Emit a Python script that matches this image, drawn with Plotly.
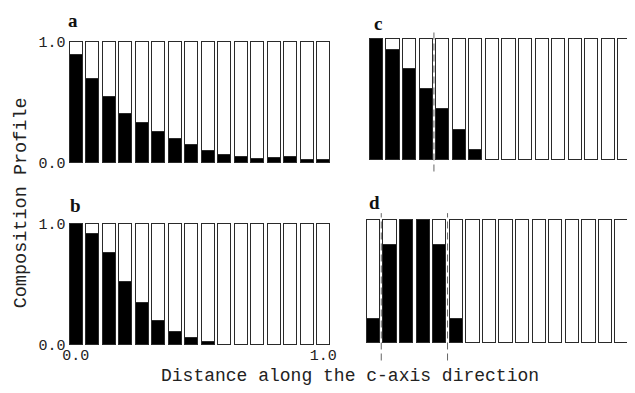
import plotly.graph_objects as go

# ---------------- data ----------------
n_bars = 16
distance = [i / (n_bars - 1) for i in range(n_bars)]          # 0.0 .. 1.0 along c-axis

a_black = [0.90, 0.70, 0.55, 0.41, 0.33, 0.26, 0.20, 0.15, 0.10, 0.065, 0.05, 0.04, 0.045, 0.05, 0.03, 0.03]
b_black = [1.00, 0.92, 0.76, 0.52, 0.35, 0.20, 0.11, 0.055, 0.027, 0, 0, 0, 0, 0, 0, 0]
c_black = [1.00, 0.91, 0.75, 0.585, 0.42, 0.25, 0.087, 0, 0, 0, 0, 0, 0, 0, 0, 0]
d_black = [0.20, 0.80, 1.00, 1.00, 0.80, 0.20, 0, 0, 0, 0, 0, 0, 0, 0, 0, 0]

c_interfaces = [3.5 / (n_bars - 1)]
d_interfaces = [0.5 / (n_bars - 1), 4.5 / (n_bars - 1)]

panel_labels = ["a", "b", "c", "d"]
y_tickvals = [0.0, 1.0]
y_ticktext = ["0.0", "1.0"]
x_tickvals = [0.0, 1.0]
x_ticktext = ["0.0", "1.0"]
x_title = "Distance along the c-axis direction"
y_title = "Composition Profile"

# ---------------- layout helpers ----------------
W, H = 635, 393
OFF = 8          # the page places the figure 8 px in from the window corner
BARGAP = 0.2
step = 1 / (n_bars - 1)


def geom(L, R, y1px, y0px, ylo, yhi):
    L, R, y1px, y0px = L - OFF, R - OFF, y1px - OFF, y0px - OFF
    p = (R - L) / (n_bars - 1 + (1 - BARGAP))
    dl = L - (BARGAP / 2) * p
    dr = R + (BARGAP / 2) * p
    xr = [-0.5 * step, (n_bars - 0.5) * step]
    if dr > W:
        xr[1] = xr[0] + (W - dl) / p * step
        dr = W
    u = y0px - y1px
    top = y1px - (yhi - 1) * u
    bot = y0px + (-ylo) * u
    return [dl / W, dr / W], [1 - bot / H, 1 - top / H], xr, [ylo, yhi]


def paper(px, py):
    return (px - OFF) / W, 1 - (py - OFF) / H


panels = [
    (a_black, geom(65, 330, 39, 164, -0.012, 1.02)),
    (b_black, geom(65, 330, 227, 352, -0.012, 1.02)),
    (c_black, geom(370, 636, 35, 161, -0.10, 1.07)),
    (d_black, geom(367, 633, 223, 350, -0.15, 1.06)),
]

mono = "Liberation Mono, Courier New, monospace"
serif = "Liberation Serif, Times New Roman, serif"
outline = "#2a2a2a"
txt = "#222"

fig = go.Figure()
layout = dict(
    width=W, height=H,
    margin=dict(l=0, r=0, t=0, b=0),
    paper_bgcolor="white", plot_bgcolor="white",
    barmode="stack", bargap=BARGAP,
    showlegend=False,
    font=dict(family=mono, size=15, color=txt),
)

for k, (vals, (xd, yd, xr, yr)) in enumerate(panels):
    idx = "" if k == 0 else str(k + 1)
    xa, ya = "x" + idx, "y" + idx
    white = [1 - v for v in vals]
    fig.add_trace(go.Bar(x=distance, y=vals, xaxis=xa, yaxis=ya,
                         marker=dict(color="black", line=dict(color=outline, width=1))))
    fig.add_trace(go.Bar(x=distance, y=white, xaxis=xa, yaxis=ya,
                         marker=dict(color="white", line=dict(color=outline, width=1))))
    show_y = k in (0, 1)
    show_x = k == 1
    layout["xaxis" + idx] = dict(domain=xd, range=xr, anchor=ya, showgrid=False, zeroline=False,
                                 showline=False, ticks="", ticklabelstandoff=-2,
                                 showticklabels=show_x, tickvals=x_tickvals, ticktext=x_ticktext,
                                 tickfont=dict(family=mono, size=15, color=txt))
    layout["yaxis" + idx] = dict(domain=yd, range=yr, anchor=xa, showgrid=False, zeroline=False,
                                 showline=False, ticks="", ticklabelstandoff=1,
                                 showticklabels=show_y, tickvals=y_tickvals, ticktext=y_ticktext,
                                 tickfont=dict(family=mono, size=15, color=txt))

fig.update_layout(**layout)

# interface (dashed) lines
for k, bounds in ((2, c_interfaces), (3, d_interfaces)):
    idx = str(k + 1)
    yr = panels[k][1][3]
    for b in bounds:
        fig.add_shape(type="line", xref="x" + idx, yref="y" + idx,
                      x0=b, x1=b, y0=yr[0] + 0.005, y1=yr[1] - 0.005,
                      line=dict(color="#666", width=1, dash="7px,4px"))

# panel labels
label_pos = [(69, 17), (71, 208), (379, 20), (375, 205)]
for lab, (px, py) in zip(panel_labels, label_pos):
    x, y = paper(px, py)
    fig.add_annotation(text="<b>" + lab + "</b>", x=x, y=y, xref="paper", yref="paper",
                       showarrow=False, xanchor="center", yanchor="middle",
                       font=dict(family=serif, size=19, color="#111"))

# axis titles
x, y = paper(350, 384)
fig.add_annotation(text=x_title, x=x, y=y, xref="paper", yref="paper",
                   showarrow=False, xanchor="center", yanchor="middle",
                   font=dict(family=mono, size=18, color=txt))
x, y = paper(17, 205)
fig.add_annotation(text=y_title, x=x, y=y, xref="paper", yref="paper",
                   showarrow=False, xanchor="center", yanchor="middle", textangle=-90,
                   font=dict(family=mono, size=18.5, color=txt))

fig.write_html("out.html")
